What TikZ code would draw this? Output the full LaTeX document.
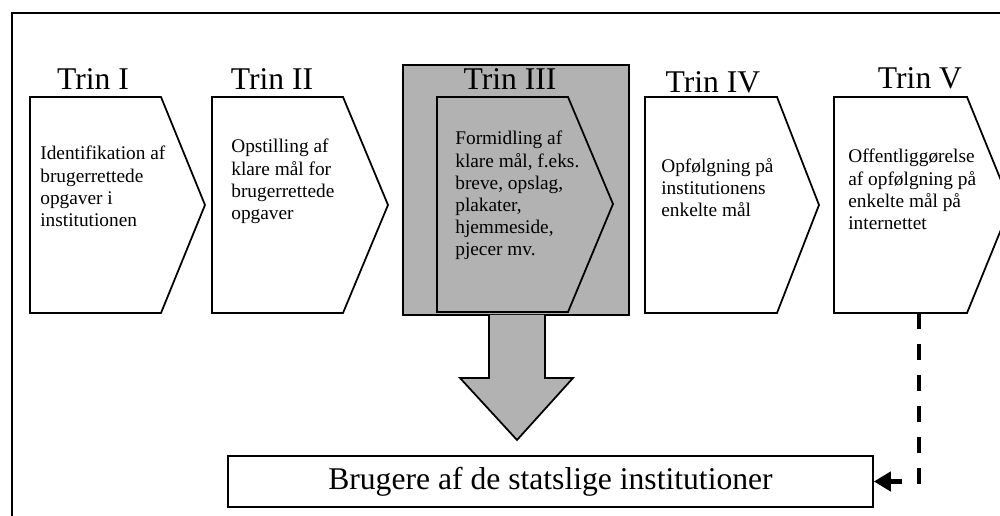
\documentclass[tikz,border=0pt]{standalone}
\usepackage{fontspec}
\setmainfont{Liberation Serif}
\usetikzlibrary{arrows.meta}

\tikzset{
	trinbox/.style={draw, fill=white, line width=1pt, line join=miter},
	graybox/.style={draw, fill=black!30, line width=1pt},
	trinlbl/.style={font=\fontsize{18}{20}\selectfont, anchor=base, inner sep=0pt},
	trintxt/.style={font=\fontsize{11}{12.6}\selectfont, align=left, anchor=north west, inner sep=0pt},
	feedback/.style={line width=2.4pt, dash pattern=on 0.32cm off 0.3cm, -{Triangle[length=0.34cm,width=0.38cm]}}
}

\begin{document}
\begin{tikzpicture}[x=0.02cm, y=-0.02cm]
			\useasboundingbox (0,0) rectangle (1000,516);
			% ramme
			\draw[line width=1.2pt] (12,530) -- (12,13) -- (1010,13);
			
			% trin I og II
			\draw[trinbox] (30,97) -- (161,97) -- (205,205) -- (161,313) -- (30,313) -- cycle;
			\draw[trinbox] (212,97) -- (343,97) -- (388,205) -- (343,313) -- (212,313) -- cycle;
			\node[trinlbl] (lbl1) at (93,90) {Trin I};
			\node[trinlbl] (lbl2) at (272,90) {Trin II};
			\node[trintxt] (txt1) at (40,146) {Identifikation af\\brugerrettede\\opgaver i\\institutionen};
			\node[trintxt] (txt2) at (231,139) {Opstilling af\\klare mål for\\brugerrettede\\opgaver};
			
			% trin III, fremhaevet
			\draw[graybox] (403,65) rectangle (629,315);
			\draw[graybox] (437,97) -- (568,97) -- (613,204) -- (568,312) -- (437,312) -- cycle;
			\node[trinlbl] (lbl3) at (510,90) {Trin III};
			\node[trintxt] (txt3) at (455,131) {Formidling af\\klare mål, f.eks.\\breve, opslag,\\plakater,\\hjemmeside,\\pjecer mv.};
			\draw[graybox] (489,315) -- (489,378) -- (460,378) -- (517,440) -- (573,378) -- (545,378) -- (545,315);
			
			% trin IV og V
			\draw[trinbox] (645,97) -- (777,97) -- (819,205) -- (777,313) -- (645,313) -- cycle;
			\draw[trinbox] (834,97) -- (967,97) -- (1011,205) -- (967,313) -- (834,313) -- cycle;
			\node[trinlbl] (lbl4) at (713,93) {Trin IV};
			\node[trinlbl] (lbl5) at (920,89) {Trin V};
			\node[trintxt] (txt4) at (661,158) {Opfølgning på\\institutionens\\enkelte mål};
			\node[trintxt] (txt5) at (848,149) {Offentliggørelse\\af opfølgning på\\enkelte mål på\\internettet};
			
			% brugerne
			\node[draw, line width=1pt, minimum width=12.9cm, minimum height=1.02cm,
				font=\fontsize{18}{20}\selectfont] (brugere) at (550.5,481.5) {Brugere af de statslige institutioner};
			\coordinate (v5bund) at (919,313);
			\draw[feedback] (v5bund) |- (brugere.east);
			
		\end{tikzpicture}
\end{document}
